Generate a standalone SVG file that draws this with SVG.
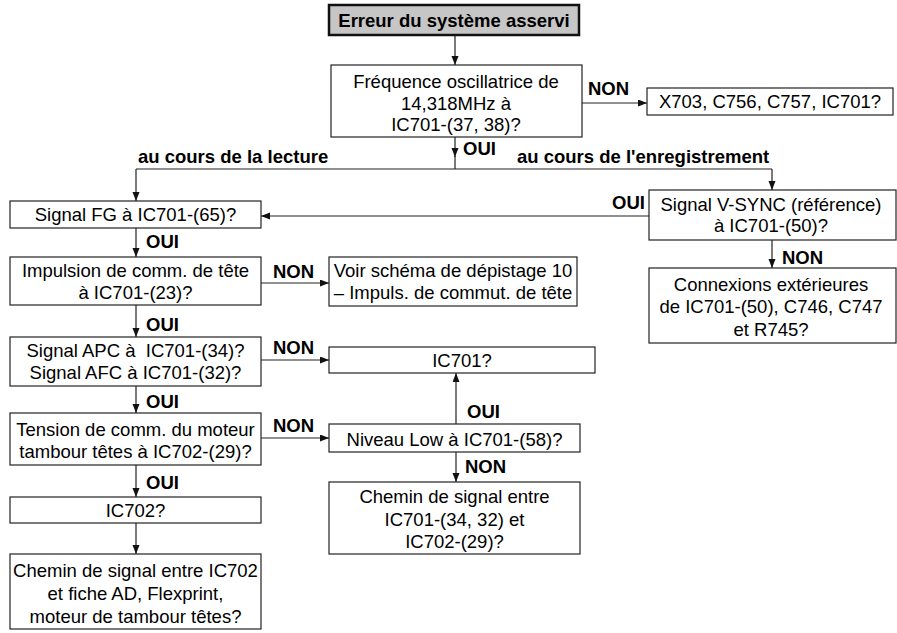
<svg xmlns="http://www.w3.org/2000/svg" width="897" height="633" viewBox="0 0 897 633">
<style>
text{font-family:"Liberation Sans",Arial,Helvetica,sans-serif;font-size:18.5px;fill:#000}
.c{text-anchor:middle}
.b{font-weight:bold}
.box{fill:#fff;stroke:#222;stroke-width:1.2}
.title{fill:#c6c6c6;stroke:#111;stroke-width:2.5}
.ln{fill:none;stroke:#222;stroke-width:1.2}
.ar{marker-end:url(#ah)}
</style>
<defs>
<marker id="ah" markerUnits="userSpaceOnUse" markerWidth="10" markerHeight="8" refX="9" refY="3.5" orient="auto">
<path d="M0,0 L9,3.5 L0,7 z" fill="#111"/>
</marker>
</defs>
<rect width="897" height="633" fill="#fff"/>
<g id="connectors">
<line class="ln ar" x1="455" y1="35" x2="455" y2="65"/>
<line class="ln ar" x1="582" y1="103" x2="647" y2="103"/>
<line class="ln ar" x1="455" y1="137" x2="455" y2="157"/>
<line class="ln" x1="455" y1="156" x2="455" y2="169"/>
<polyline class="ln ar" points="136,169 136,201"/>
<line class="ln" x1="136" y1="169" x2="772" y2="169"/>
<line class="ln ar" x1="772" y1="169" x2="772" y2="190"/>
<line class="ln ar" x1="649" y1="216" x2="261" y2="216"/>
<line class="ln ar" x1="772" y1="240" x2="772" y2="268"/>
<line class="ln ar" x1="136" y1="228" x2="136" y2="257"/>
<line class="ln ar" x1="261" y1="283" x2="329" y2="283"/>
<line class="ln ar" x1="136" y1="305" x2="136" y2="337"/>
<line class="ln ar" x1="261" y1="360" x2="329" y2="360"/>
<line class="ln ar" x1="136" y1="386" x2="136" y2="413"/>
<line class="ln ar" x1="261" y1="438" x2="329" y2="438"/>
<line class="ln ar" x1="456" y1="424" x2="456" y2="373"/>
<line class="ln ar" x1="456" y1="452" x2="456" y2="482"/>
<line class="ln ar" x1="136" y1="465" x2="136" y2="497"/>
<line class="ln ar" x1="136" y1="523" x2="136" y2="554"/>
<text class="b" x="588" y="95">NON</text>
<text class="b" x="463" y="155">OUI</text>
<text class="b" x="138" y="163">au cours de la lecture</text>
<text class="b" x="517" y="163">au cours de l'enregistrement</text>
<text class="b" x="612" y="209">OUI</text>
<text class="b" x="782" y="264">NON</text>
<text class="b" x="146" y="248">OUI</text>
<text class="b" x="273" y="278">NON</text>
<text class="b" x="146" y="331">OUI</text>
<text class="b" x="273" y="354">NON</text>
<text class="b" x="146" y="408">OUI</text>
<text class="b" x="273" y="432">NON</text>
<text class="b" x="467" y="418">OUI</text>
<text class="b" x="465" y="473">NON</text>
<text class="b" x="146" y="489">OUI</text>
</g>
<g id="n-title">
<rect class="title" x="329" y="5" width="250" height="30"/>
<text class="c b" x="454" y="27">Erreur du système asservi</text>
</g>
<g id="n-freq">
<rect class="box" x="331" y="65" width="251" height="72"/>
<text class="c" x="456" y="88">Fréquence oscillatrice de</text>
<text class="c" x="456" y="110">14,318MHz à</text>
<text class="c" x="456" y="131">IC701-(37, 38)?</text>
</g>
<g id="n-x703">
<rect class="box" x="647" y="88" width="246" height="27"/>
<text class="c" x="770" y="108">X703, C756, C757, IC701?</text>
</g>
<g id="n-fg">
<rect class="box" x="10" y="201" width="251" height="27"/>
<text class="c" x="135.5" y="221">Signal FG à IC701-(65)?</text>
</g>
<g id="n-vsync">
<rect class="box" x="649" y="190" width="247" height="50"/>
<text class="c" x="771" y="211">Signal V-SYNC (référence)</text>
<text class="c" x="771" y="232">à IC701-(50)?</text>
</g>
<g id="n-conn">
<rect class="box" x="649" y="268" width="247" height="75"/>
<text class="c" x="771" y="291">Connexions extérieures</text>
<text class="c" x="771" y="313">de IC701-(50), C746, C747</text>
<text class="c" x="771" y="336">et R745?</text>
</g>
<g id="n-impuls">
<rect class="box" x="10" y="257" width="251" height="48"/>
<text class="c" x="135.5" y="277">Impulsion de comm. de tête</text>
<text class="c" x="135.5" y="299">à IC701-(23)?</text>
</g>
<g id="n-voir">
<rect class="box" x="329" y="257" width="248" height="49"/>
<text class="c" x="453" y="277">Voir schéma de dépistage 10</text>
<text class="c" x="453" y="299">– Impuls. de commut. de tête</text>
</g>
<g id="n-apc">
<rect class="box" x="10" y="337" width="251" height="49"/>
<text class="c" x="135.5" y="357" style="white-space:pre" xml:space="preserve">Signal APC à  IC701-(34)?</text>
<text class="c" x="135.5" y="379">Signal AFC à IC701-(32)?</text>
</g>
<g id="n-ic701">
<rect class="box" x="329" y="347" width="266" height="26"/>
<text class="c" x="462" y="367">IC701?</text>
</g>
<g id="n-tension">
<rect class="box" x="10" y="413" width="251" height="52"/>
<text class="c" x="135.5" y="436">Tension de comm. du moteur</text>
<text class="c" x="135.5" y="458">tambour têtes à IC702-(29)?</text>
</g>
<g id="n-niveau">
<rect class="box" x="329" y="424" width="251" height="28"/>
<text class="c" x="454.5" y="446">Niveau Low à IC701-(58)?</text>
</g>
<g id="n-chemin1">
<rect class="box" x="329" y="482" width="251" height="72"/>
<text class="c" x="454.5" y="503">Chemin de signal entre</text>
<text class="c" x="454.5" y="526">IC701-(34, 32) et</text>
<text class="c" x="454.5" y="548">IC702-(29)?</text>
</g>
<g id="n-ic702">
<rect class="box" x="10" y="497" width="251" height="26"/>
<text class="c" x="135.5" y="517">IC702?</text>
</g>
<g id="n-chemin2">
<rect class="box" x="10" y="554" width="251" height="75"/>
<text class="c" x="135.5" y="577">Chemin de signal entre IC702</text>
<text class="c" x="135.5" y="600">et fiche AD, Flexprint,</text>
<text class="c" x="135.5" y="623">moteur de tambour têtes?</text>
</g>
</svg>
